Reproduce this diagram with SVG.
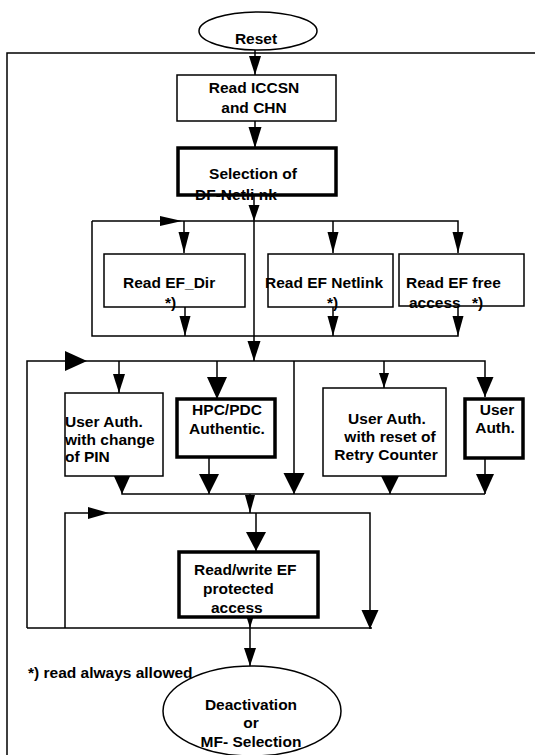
<svg xmlns="http://www.w3.org/2000/svg" width="535" height="755" viewBox="0 0 535 755">
<style>
.t{font-family:"Liberation Sans",Arial,Helvetica,sans-serif;font-weight:bold;font-size:15.5px;fill:#000}
.m{text-anchor:middle}
.box{fill:#fff;stroke:#000;stroke-width:1.5}
.thick{fill:#fff;stroke:#000;stroke-width:3.5}
.ell{fill:#fff;stroke:#000;stroke-width:1.5}
.ln{fill:none;stroke:#000;stroke-width:1.5}
</style>
<defs>
<path id="ah" d="M0,0 L-0.5,-1 L0.5,-1 Z" fill="#000"/>
</defs>
<rect width="535" height="755" fill="#fff"/>
<path class="ln" d="M7,760 V53 H540"/>

<g id="connectors">
<path class="ln" d="M255,50 V75 M255,121 V148 M254,195 V361"/>
<path class="ln" d="M92,221 H458 V253 M92,221 V336 H458 V306 M184,221 V253 M333,221 V253 M185,307 V336 M333,307 V336"/>
<path class="ln" d="M27,628 V361 H485 V397 M119,361 V393 M217,361 V399 M294,361 V494 M384,361 V388"/>
<path class="ln" d="M122,476 V494 H485 M209,457 V494 M390,476 V494 M485,458 V494 M250,494 V513"/>
<path class="ln" d="M65,628 V513 H370 V629 M256,513 V551 M27,628 H372 M250,617 V666"/>
<use href="#ah" transform="translate(255,75) scale(12,19)"/>
<use href="#ah" transform="translate(255,148) scale(13,21)"/>
<use href="#ah" transform="translate(254,221) scale(11,16)"/>
<use href="#ah" transform="translate(254,361) scale(13,20)"/>
<use href="#ah" transform="translate(182,221) rotate(-90) scale(10,22)"/>
<use href="#ah" transform="translate(184,253) scale(11,21)"/>
<use href="#ah" transform="translate(333,253) scale(11,21)"/>
<use href="#ah" transform="translate(458,253) scale(11,21)"/>
<use href="#ah" transform="translate(185,336) scale(11,20)"/>
<use href="#ah" transform="translate(333,336) scale(11,20)"/>
<use href="#ah" transform="translate(458,336) scale(11,20)"/>
<use href="#ah" transform="translate(87,361) rotate(-90) scale(20,22)"/>
<use href="#ah" transform="translate(119,393) scale(12,19)"/>
<use href="#ah" transform="translate(217,399) scale(20,22)"/>
<use href="#ah" transform="translate(294,494) scale(21,21)"/>
<use href="#ah" transform="translate(384,388) scale(10,15)"/>
<use href="#ah" transform="translate(485,397) scale(17,20)"/>
<use href="#ah" transform="translate(122,494) scale(19,21)"/>
<use href="#ah" transform="translate(209,494) scale(20,20)"/>
<use href="#ah" transform="translate(390,494) scale(20,20)"/>
<use href="#ah" transform="translate(485,494) scale(18,20)"/>
<use href="#ah" transform="translate(250,513) scale(10,18)"/>
<use href="#ah" transform="translate(109,513) rotate(-90) scale(12,21)"/>
<use href="#ah" transform="translate(256,551) scale(20,19)"/>
<use href="#ah" transform="translate(370,629) scale(17,19)"/>
<use href="#ah" transform="translate(250,628) scale(10,16)"/>
<use href="#ah" transform="translate(250,666) scale(12,18)"/>
</g>

<g id="reset">
<ellipse class="ell" cx="258" cy="31" rx="59" ry="19"/>
<text class="t m" x="256" y="44">Reset</text>
</g>
<g id="read-iccsn">
<rect class="box" x="177" y="75" width="159" height="46"/>
<text class="t m" x="254" y="93">Read ICCSN</text>
<text class="t m" x="254" y="113">and CHN</text>
</g>
<g id="selection">
<rect class="thick" x="178" y="148" width="158" height="47"/>
<text class="t m" x="253" y="179">Selection of</text>
<text class="t" x="195" y="200">DF-Netli nk</text>
</g>
<g id="read-ef-dir">
<rect class="box" x="104" y="254" width="141" height="53"/>
<text class="t" x="123" y="288">Read EF_Dir</text>
<text class="t" x="165" y="308">*)</text>
</g>
<g id="read-ef-netlink">
<rect class="box" x="268" y="254" width="125" height="53"/>
<text class="t" x="265" y="288">Read EF Netlink</text>
<text class="t" x="327" y="308">*)</text>
</g>
<g id="read-ef-free">
<rect class="box" x="399" y="254" width="125" height="52"/>
<text class="t" x="406" y="288">Read EF free</text>
<text class="t" x="409" y="308">access</text>
<text class="t" x="472" y="308">*)</text>
</g>
<g id="user-auth-pin">
<rect class="box" x="65" y="393" width="98" height="83"/>
<text class="t" x="65" y="427">User Auth.</text>
<text class="t" x="65" y="445">with change</text>
<text class="t" x="65" y="462">of PIN</text>
</g>
<g id="hpc-pdc">
<rect class="thick" x="177" y="399" width="98" height="58"/>
<text class="t m" x="227" y="415">HPC/PDC</text>
<text class="t m" x="227" y="434">Authentic.</text>
</g>
<g id="user-auth-retry">
<rect class="box" x="323" y="388" width="123" height="88"/>
<text class="t m" x="387" y="424">User Auth.</text>
<text class="t m" x="390" y="442">with reset of</text>
<text class="t m" x="386" y="460">Retry Counter</text>
</g>
<g id="user-auth">
<rect class="thick" x="465" y="399" width="58" height="59"/>
<text class="t m" x="497" y="415">User</text>
<text class="t m" x="495" y="433">Auth.</text>
</g>
<g id="read-write">
<rect class="thick" x="179" y="552" width="139" height="65"/>
<text class="t" x="194" y="575">Read/write EF</text>
<text class="t" x="203" y="594">protected</text>
<text class="t" x="211" y="613">access</text>
</g>
<g id="footnote">
<text class="t" x="28" y="678">*) read always allowed</text>
</g>
<g id="deactivation">
<ellipse class="ell" cx="252" cy="711" rx="89" ry="45"/>
<text class="t m" x="251" y="710">Deactivation</text>
<text class="t m" x="251" y="728">or</text>
<text class="t m" x="251" y="747">MF- Selection</text>
</g>
</svg>
